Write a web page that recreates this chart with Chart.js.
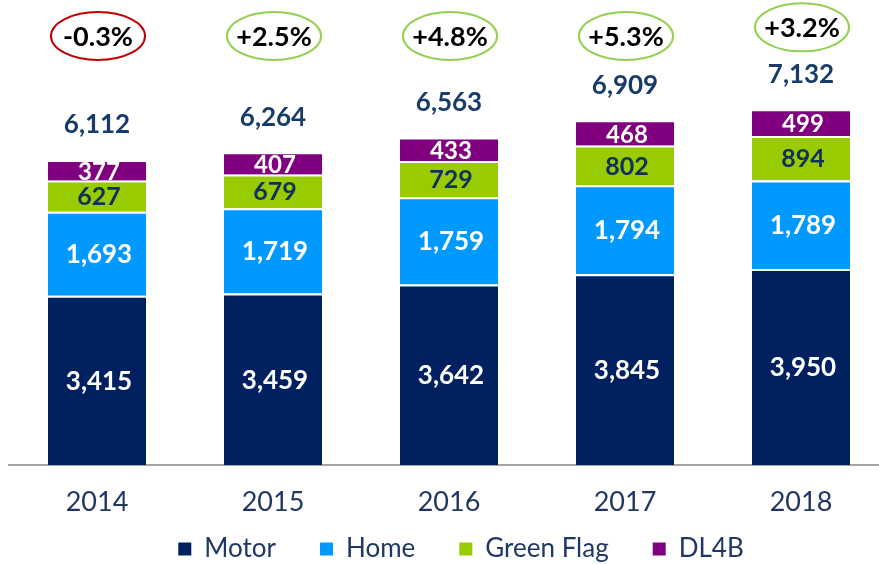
<!DOCTYPE html>
<html>
<head>
<meta charset="utf-8">
<script src="https://cdn.jsdelivr.net/npm/chart.js@4.4.1/dist/chart.umd.min.js"></script>
<style>
  html, body { margin: 0; padding: 0; background: #fff; overflow: hidden; }
  #wrap { width: 879px; height: 564px; overflow: hidden; }
  canvas { display: block; }
</style>
</head>
<body>
<div id="wrap"><canvas id="gwpChart" width="913" height="572"></canvas></div>
<script>
// Data
const years = ['2014', '2015', '2016', '2017', '2018'];
const motor = [3415, 3459, 3642, 3845, 3950];
const home = [1693, 1719, 1759, 1794, 1789];
const greenFlag = [627, 679, 729, 802, 894];
const dl4b = [377, 407, 433, 468, 499];
const growth = ['-0.3%', '+2.5%', '+4.8%', '+5.3%', '+3.2%'];
const seriesNames = ['Motor', 'Home', 'Green Flag', 'DL4B'];

const FONT = 'Lato, "DejaVu Sans", sans-serif';
const NAVY = '#1F3864';

const fmt = v => v.toLocaleString('en-US');

// labels inside the segments, totals above and growth ellipses
const labelPlugin = {
    id: 'barLabels',
    afterDatasetsDraw(chart) {
        const ctx = chart.ctx;
        const textColors = ['#ffffff', '#ffffff', '#10305F', '#ffffff'];
        const sizes = [26, 26, 25, 24];
        ctx.save();
        ctx.textAlign = 'center';
        ctx.textBaseline = 'middle';
        chart.data.datasets.forEach((ds, i) => {
            const meta = chart.getDatasetMeta(i);
            ctx.font = 'bold ' + sizes[i] + 'px ' + FONT;
            ctx.fillStyle = textColors[i];
            meta.data.forEach((bar, j) => {
                const cy = (bar.y + bar.base) / 2 + 1;
                ctx.fillText(fmt(ds.data[j]), bar.x + 2, cy);
            });
        });

        const last = chart.getDatasetMeta(chart.data.datasets.length - 1);
        last.data.forEach((bar, j) => {
            const total = chart.data.datasets.reduce((s, ds) => s + ds.data[j], 0);
            const ty = bar.y - 37;
            ctx.font = 'bold 26px ' + FONT;
            ctx.fillStyle = '#173C6C';
            ctx.fillText(fmt(total), bar.x, ty);

            const ey = Math.min(chart.chartArea.top + 26, ty - 47);
            ctx.beginPath();
            ctx.ellipse(bar.x + 1, ey, 47, 24, 0, 0, Math.PI * 2);
            ctx.lineWidth = 2;
            ctx.strokeStyle = growth[j].startsWith('-') ? '#C00000' : '#92D050';
            ctx.stroke();
            ctx.font = 'bold 27px ' + FONT;
            ctx.fillStyle = '#000000';
            ctx.fillText(growth[j], bar.x + 1, ey + 1);
        });
        ctx.restore();
    }
};

const colors = ['#002060', '#0099FF', '#99CC00', '#800080'];
const values = [motor, home, greenFlag, dl4b];

new Chart(document.getElementById('gwpChart'), {
    type: 'bar',
    data: {
        labels: years,
        datasets: seriesNames.map((name, i) => ({
            label: name,
            data: values[i],
            backgroundColor: colors[i],
            borderColor: '#ffffff',
            borderWidth: i < 3 ? { top: 2, right: 0, bottom: 0, left: 0 } : 0,
            borderSkipped: false,
            categoryPercentage: 1,
            barPercentage: 0.557,
        }))
    },
    options: {
        responsive: false,
        animation: false,
        layout: { padding: { top: 10, left: 9, right: 0, bottom: 0 } },
        plugins: {
            tooltip: { enabled: false },
            legend: {
                position: 'bottom',
                labels: {
                    color: NAVY,
                    font: { family: FONT, size: 26 },
                    boxWidth: 13,
                    boxHeight: 13,
                    padding: 18,
                    generateLabels: chart => Chart.defaults.plugins.legend.labels.generateLabels(chart)
                        .map((l, i, arr) => ({ ...l, lineWidth: 0, text: i < arr.length - 1 ? l.text + '\u2002\u2002' : l.text }))
                }
            }
        },
        scales: {
            x: {
                stacked: true,
                grid: { display: false, drawTicks: false },
                border: { display: true, color: '#A6A6A6', width: 2 },
                ticks: { color: NAVY, font: { family: FONT, size: 27 }, padding: 21 },
                afterFit: s => { s.height = 53; }
            },
            y: {
                stacked: true,
                display: false,
                min: 0,
                max: 9175
            },
            yR: {
                type: 'linear',
                position: 'right',
                display: true,
                grid: { display: false, drawTicks: false },
                border: { display: false },
                ticks: { display: false },
                afterFit: s => { s.width = 24; }
            }
        }
    },
    plugins: [labelPlugin]
});
</script>
</body>
</html>
